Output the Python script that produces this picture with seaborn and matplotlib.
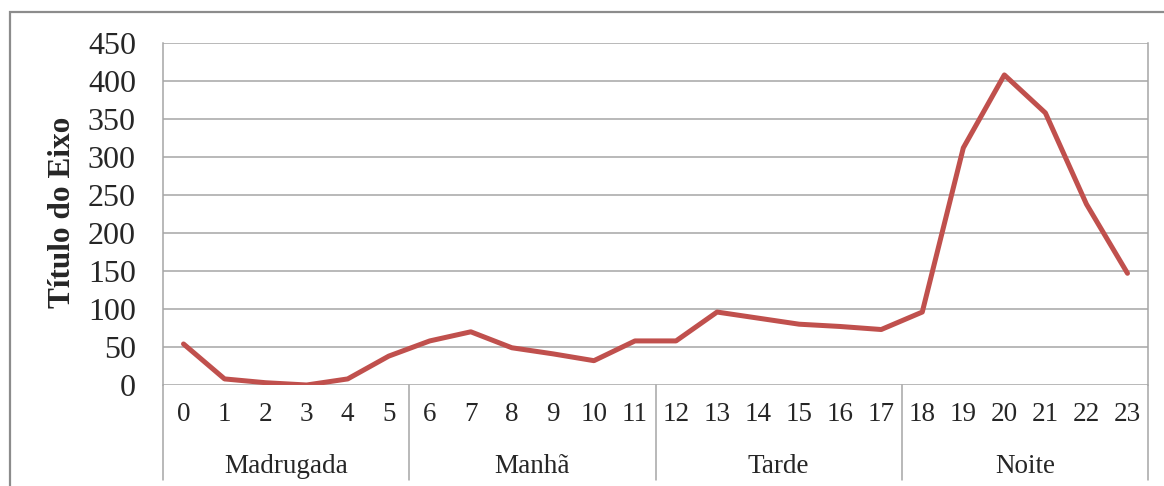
#!/usr/bin/env python3

import matplotlib
matplotlib.use("Agg")
import matplotlib.pyplot as plt
import matplotlib.transforms as mtransforms
from matplotlib.patches import Rectangle
import pandas as pd
import seaborn as sns

horas = list(range(24))
valores = [54, 8, 3, 0, 8, 38, 58, 70, 49, 41, 32, 58,
           58, 96, 88, 80, 77, 73, 96, 312, 408, 358, 238, 147]
periodos = ["Madrugada", "Manhã", "Tarde", "Noite"]
y_ticks = [0, 50, 100, 150, 200, 250, 300, 350, 400, 450]

sns.set_style("white")
plt.rcParams["font.family"] = ["Liberation Serif", "DejaVu Serif"]

df = pd.DataFrame({"hora": horas, "valor": valores})

fig = plt.figure(figsize=(11.64, 4.86), dpi=100)
ax = fig.add_axes([163 / 1164, 1 - 385 / 486, (1148 - 163) / 1164, (385 - 43) / 486])

sns.lineplot(data=df, x="hora", y="valor", ax=ax, color="#C0504D", linewidth=3.6)

grid_c = "#A6A6A6"
ax.set_xlim(-0.5, 23.5)
ax.set_ylim(0, 450)
ax.set_yticks(y_ticks)
ax.set_yticklabels([str(v) for v in y_ticks], fontsize=23)
ax.set_xticks(horas)
ax.set_xticklabels([str(h) for h in horas], fontsize=19.5)
ax.tick_params(axis="x", length=0, pad=12)
ax.tick_params(axis="y", length=6.5, width=1.1, color=grid_c, pad=13)
ax.yaxis.grid(True, color=grid_c, linewidth=1.1)
ax.set_axisbelow(True)
for s in ["top", "bottom"]:
    ax.spines[s].set_visible(False)
for s in ["left", "right"]:
    ax.spines[s].set_color(grid_c)
    ax.spines[s].set_linewidth(1.1)
ax.set_xlabel("")
ax.set_ylabel("")

# group dividers and labels below the axis
trans = mtransforms.blended_transform_factory(ax.transData, ax.transAxes)
y_bot = (385 - 480) / 342
for xb in [-0.5, 5.5, 11.5, 17.5, 23.5]:
    ax.plot([xb, xb], [0, y_bot], color=grid_c, lw=1.1, transform=trans, clip_on=False)
for i, p in enumerate(periodos):
    ax.text(i * 6 + 2.5, (385 - 473) / 342, p, transform=trans, ha="center",
            va="baseline", fontsize=19.5)

fig.text(62 / 1164, 1 - 212 / 486, "Título do Eixo", rotation=90, ha="center",
         va="center", fontsize=22.5, fontweight="bold")

# outer chart frame
fig.patches.append(Rectangle((10 / 1164, -0.05), 1.2, 1 - 12 / 486 + 0.05,
                             transform=fig.transFigure, fill=False,
                             edgecolor="#8C8C8C", linewidth=1.6))

fig.savefig("out.png", dpi=100)
plt.close(fig)
